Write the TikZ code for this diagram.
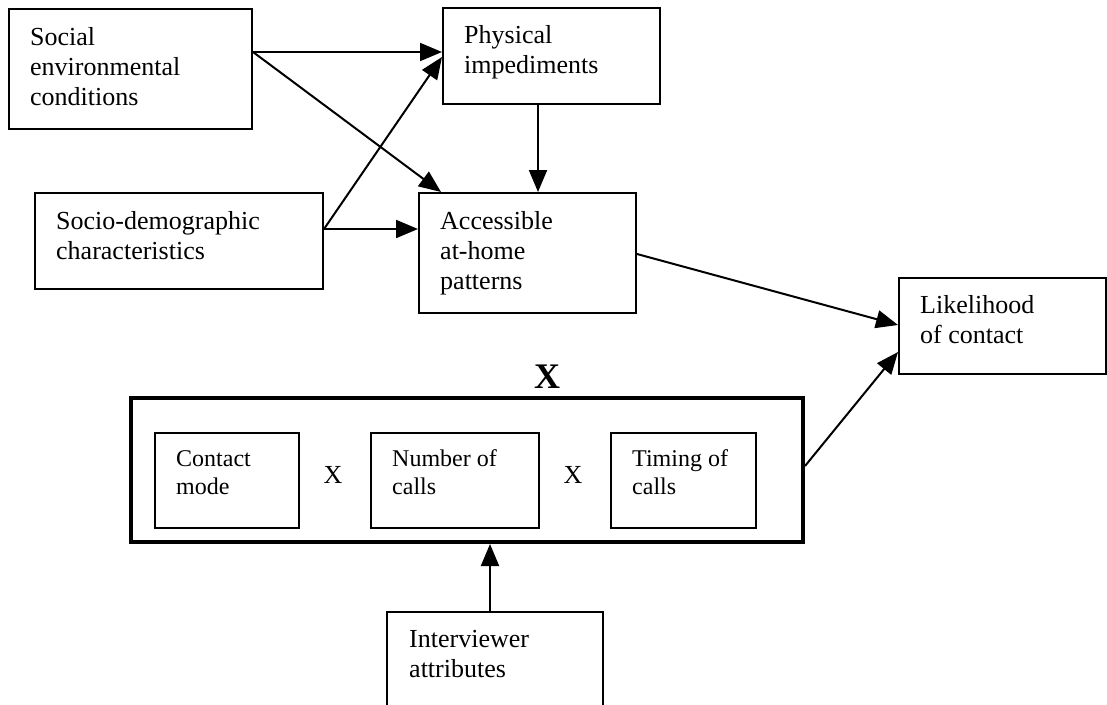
\documentclass[tikz,border=0pt]{standalone}
\usepackage{fontspec}
\setmainfont{Liberation Serif}
\usetikzlibrary{arrows.meta,calc,fit}
\begin{document}
\begin{tikzpicture}[x=1pt,y=-1pt,
  box/.style={draw, line width=2pt, inner sep=0pt},
  frame/.style={draw, line width=4pt, inner sep=0pt},
  lbl/.style={anchor=base west, align=left, inner sep=0pt, font=\fontsize{26}{30}\selectfont},
  smalllbl/.style={anchor=base west, align=left, inner sep=0pt, font=\fontsize{24}{28}\selectfont},
  op/.style={anchor=base, inner sep=0pt, font=\fontsize{26}{30}\selectfont},
  link/.style={line width=2pt, -{Triangle[length=22pt,width=18pt]}}]
\useasboundingbox (0,0) rectangle (1107,704);
\clip (0,0) rectangle (1107,704);

% boxes
\node[box, fit={(9,9) (252,129)}] (soc) {};
\node[box, fit={(443,8) (660,104)}] (phys) {};
\node[box, fit={(35,193) (323,289)}] (socio) {};
\node[box, fit={(419,193) (636,313)}] (acc) {};
\node[box, fit={(899,278) (1106,374)}] (lik) {};
\node[frame, fit={(131,398) (803,542)}] (big) {};
\node[box, fit={(155,433) (299,528)}] (mode) {};
\node[box, fit={(371,433) (539,528)}] (num) {};
\node[box, fit={(611,433) (756,528)}] (timing) {};
\node[box, fit={(387,612) (603,720)}] (inter) {};

% texts (anchored at the baseline of the last line)
\node[lbl] (socT) at (30,105) {Social\\environmental\\conditions};
\node[lbl] (physT) at (464,73) {Physical\\impediments};
\node[lbl] (socioT) at (56,259) {Socio-demographic\\characteristics};
\node[lbl] (accT) at (440,289) {Accessible\\at-home\\patterns};
\node[lbl] (likT) at (920,343) {Likelihood\\of contact};
\node[smalllbl] (modeT) at (176,494) {Contact\\mode};
\node[smalllbl] (numT) at (392,494) {Number of\\calls};
\node[smalllbl] (timingT) at (632,494) {Timing of\\calls};
\node[lbl] (interT) at (409,677) {Interviewer\\attributes};
\node[op] (x1) at (333,483) {X};
\node[op] (x2) at (573,483) {X};
\node[op, font=\fontsize{36}{40}\selectfont\bfseries] (bx) at (547,388) {X};

% connectors
\coordinate (sA) at ($(soc.north east)+(0,44)$);
\draw[link] (sA) -- (sA -| phys.west);
\draw[link] (sA) -- ($(acc.north west)+(23,0)$);
\coordinate (dA) at ($(socio.north east)+(0,37)$);
\draw[link] (dA) -- (dA -| acc.west);
\draw[link] (dA) -- ($(phys.north west)+(0,50)$);
\coordinate (pA) at ($(phys.south west)+(96,0)$);
\draw[link] (pA) -- (pA |- acc.north);
\draw[link] ($(acc.north east)+(0,62)$) -- ($(lik.north west)+(0,48)$);
\draw[link] ($(big.north east)+(0,70)$) -- ($(lik.north west)+(0,75)$);
\coordinate (iA) at ($(inter.north west)+(104,0)$);
\draw[link] (iA) -- (iA |- big.south);
\end{tikzpicture}
\end{document}
